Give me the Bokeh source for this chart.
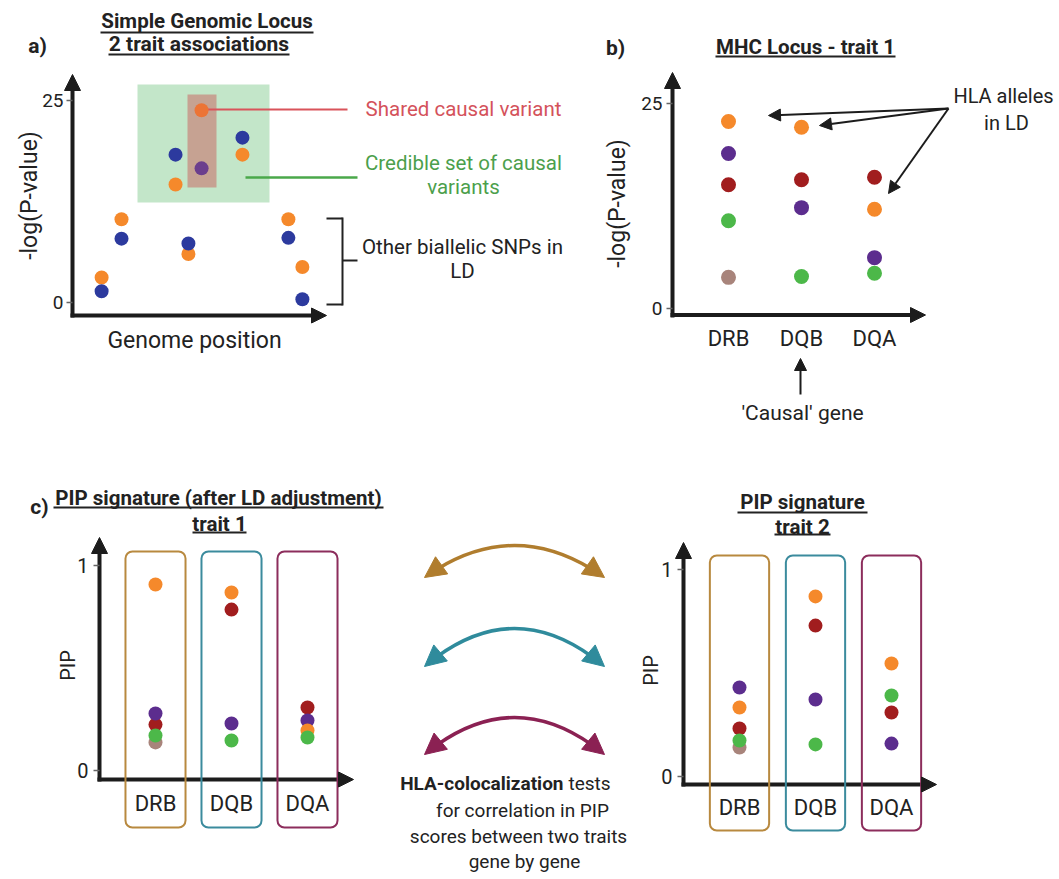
import numpy as np
from bokeh.plotting import figure
from bokeh.models import Range1d, Arrow, NormalHead, BoxAnnotation
from bokeh.core.properties import value
from bokeh.embed import file_html
from bokeh.resources import INLINE

# ---------------- data ----------------
# a) simple genomic locus: genome position (arbitrary units) and -log(P) for two traits
a_positions = [1.04, 1.75, 3.68, 4.14, 4.61, 6.07, 7.71, 8.21]
a_trait1 = [3.1, 10.3, 14.6, 6.0, 23.8, 18.3, 10.3, 4.4]
a_trait2 = [1.4, 7.9, 18.3, 7.3, 16.6, 20.4, 8.0, 0.4]
a_shared_index = 4
a_yticks = [0, 25]

# genes and allele colours (orange, purple, dark red, green, mauve)
genes = ["DRB", "DQB", "DQA"]
allele_colors = ["#f5892b", "#5c2d8e", "#a11d1e", "#4cb849", "#a8847b"]

# b) MHC locus, trait 1: -log(P) per allele
b_drb = [22.8, 18.9, 15.1, 10.7, 3.8]
b_dqb = [22.1, 12.3, 15.7, 3.9]
b_dqa = [12.1, 6.2, 16.0, 4.3]
b_yticks = [0, 25]

# c) PIP signatures
c1_drb = [0.907, 0.278, 0.224, 0.171, 0.137]
c1_dqb = [0.868, 0.229, 0.785, 0.146]
c1_dqa = [0.195, 0.244, 0.307, 0.161]
c2_drb = [0.333, 0.430, 0.232, 0.174, 0.140]
c2_dqb = [0.870, 0.372, 0.729, 0.155]
c2_dqa = [0.546, 0.159, 0.309, 0.391]
pip_yticks = [0, 1]
gene_box_colors = ["#b8893f", "#3b8b9d", "#8c2d5c"]
arc_colors = ["#b07d2e", "#2f8b9c", "#8b2153"]

# ---------------- page geometry ----------------
W, H = 1055, 875
X0, X1 = 0, W
Y0, Y1 = 0, H
INK = "#222222"
AX = "#1c1c1c"
FONT = "Roboto"

p = figure(width=W, height=H, x_range=Range1d(X0, X1), y_range=Range1d(Y1, Y0),
           output_backend="svg", toolbar_location=None, min_border=0,
           x_axis_location=None, y_axis_location=None)
p.grid.visible = False
p.outline_line_color = None
p.title.visible = False
p.background_fill_color = "white"

# panel placements: origin pixel and pixel-per-unit for each panel's scales
panels = {
    "a": (72, 28.0, 302, 8.08),
    "b": (728, 73.0, 308, 8.2),
    "c1": (155, 76.0, 770, 205.0),
    "c2": (739, 76.0, 776, 207.0),
}
xr, yr = {}, {}
for k, (ox, sx, oy, sy) in panels.items():
    xr[k + "_x"] = Range1d((X0 - ox) / sx, (X1 - ox) / sx)
    yr[k + "_y"] = Range1d((oy - Y1) / sy, (oy - Y0) / sy)
p.extra_x_ranges = xr
p.extra_y_ranges = yr


def txt(xs, ys, texts, size, color=INK, align="center", bold=False, angle=0.0,
        xn="default", yn="default"):
    p.text(x=list(xs), y=list(ys), text=list(texts), text_font=value(FONT),
           text_font_size=f"{size}px", text_color=color, text_align=align,
           text_baseline="middle", text_font_style="bold" if bold else "normal",
           angle=angle, x_range_name=xn, y_range_name=yn)


def line(x0, y0, x1, y1, color=INK, lw=2.0):
    p.segment(x0=[x0], y0=[y0], x1=[x1], y1=[y1], line_color=color, line_width=lw)


def head(x, y, ux, uy, size, color):
    p.add_layout(Arrow(end=NormalHead(size=size, fill_color=color, line_color=color, line_width=1),
                       x_start=x - ux * 2, y_start=y - uy * 2, x_end=x, y_end=y, line_alpha=0))


def axis_arrow(x0, y0, x1, y1, lw=4, size=16, color=AX):
    d = np.array([x1 - x0, y1 - y0], float)
    u = d / np.hypot(*d)
    line(x0, y0, x1 - u[0] * size * 0.8, y1 - u[1] * size * 0.8, color, lw)
    head(x1, y1, u[0], u[1], size, color)


def thin_arrow(x0, y0, x1, y1, lw=2, size=12, color=AX):
    p.add_layout(Arrow(end=NormalHead(size=size, fill_color=color, line_color=color, line_width=1),
                       x_start=x0, y_start=y0, x_end=x1, y_end=y1,
                       line_color=color, line_width=lw))


def yticks(panel, ax_x, label_x, ticks, size):
    yn = panel + "_y"
    p.segment(x0=[ax_x - 6] * len(ticks), y0=ticks, x1=[ax_x] * len(ticks), y1=ticks,
              line_color="#666666", line_width=1.5, y_range_name=yn)
    txt([label_x] * len(ticks), ticks, [str(t) for t in ticks], size, align="right", yn=yn)


# ================= panel a =================
txt([37], [45], ["a)"], 21, bold=True)
txt([206.5], [20.5], ["Simple Genomic Locus"], 20.5, bold=True)
txt([198.5], [43], ["2 trait associations"], 21, bold=True)
line(100, 32, 313, 32, INK, 1.8)
line(108, 54, 289, 54, INK, 1.8)

# credible set and shared causal variant highlight boxes
p.quad(left=[137], right=[269], top=[84], bottom=[202], fill_color="#c3e6c9", line_color=None)
p.quad(left=[187], right=[216], top=[94], bottom=[187], fill_color="#c6a292", line_color=None)

# callout lines
line(207, 109, 347, 109, "#d9535a", 2)
line(245, 177, 357, 177, "#4aa84a", 2.5)
line(326, 218, 342, 218, INK, 2)
line(342, 217, 342, 305, INK, 2)
line(326, 304, 342, 304, INK, 2)
line(342, 260, 357, 260, INK, 2)

t1_colors = ["#f5892b"] * len(a_positions)
t2_colors = ["#2c3a9e"] * len(a_positions)
t1_colors[a_shared_index] = "#ec7436"
t2_colors[a_shared_index] = "#6b3e8d"
p.scatter(a_positions, a_trait1, size=14, fill_color=t1_colors, line_color=None,
          x_range_name="a_x", y_range_name="a_y")
p.scatter(a_positions, a_trait2, size=14, fill_color=t2_colors, line_color=None,
          x_range_name="a_x", y_range_name="a_y")

axis_arrow(72, 317, 72, 74, size=16)
axis_arrow(70, 315, 326, 315, size=15)
yticks("a", 72, 63, a_yticks, 19)
txt([29], [195], ["-log(P-value)"], 23, angle=np.pi / 2)
txt([194], [340], ["Genome position"], 23)

txt([463], [108.5], ["Shared causal variant"], 20.5, color="#d4525b")
txt([463, 463], [162, 186], ["Credible set of causal", "variants"], 20.5, color="#4c9f4c")
txt([462, 462], [246, 270], ["Other biallelic SNPs in", "LD"], 20.5)

# ================= panel b =================
txt([615], [47], ["b)"], 21, bold=True)
txt([805], [46], ["MHC Locus - trait 1"], 20.5, bold=True)
line(715, 56, 895, 56, INK, 1.8)

draw_order = [2, 1, 0, 4, 3]


def gene_dots(panel, gene_values, size):
    for ai in draw_order:
        xs, ys = [], []
        for gi, vals in enumerate(gene_values):
            if ai < len(vals):
                xs.append(gi)
                ys.append(vals[ai])
        p.scatter(xs, ys, size=size, fill_color=allele_colors[ai], line_color=None,
                  x_range_name=panel + "_x", y_range_name=panel + "_y")


gene_dots("b", [b_drb, b_dqb, b_dqa], 15)
axis_arrow(672, 317, 672, 72, size=16)
axis_arrow(670, 314.5, 925, 314.5, size=15)
yticks("b", 672, 662, b_yticks, 19)
txt([617], [203], ["-log(P-value)"], 23, angle=np.pi / 2)
txt([0, 1, 2], [338] * 3, genes, 22, xn="b_x")

txt([1003, 1006], [95, 122], ["HLA alleles", "in LD"], 20)
thin_arrow(948, 108, 768, 115)
thin_arrow(948, 108, 819, 125)
thin_arrow(948, 108, 888, 193)
thin_arrow(800, 394, 800, 358)
txt([802], [412], ["'Causal' gene"], 21)

# ================= panel c (trait 1) =================
txt([39], [506], ["c)"], 21, bold=True)
txt([218], [497], ["PIP signature (after LD adjustment)"], 20.5, bold=True)
line(53, 507, 383, 507, INK, 1.8)
txt([219], [523], ["trait 1"], 20.5, bold=True)
line(192, 532, 246, 532, INK, 1.8)

for gi, col in enumerate(gene_box_colors):
    p.add_layout(BoxAnnotation(left=gi - 0.395, right=gi + 0.395, top=551, bottom=827,
                               x_range_name="c1_x", fill_color=None, fill_alpha=0,
                               line_color=col, line_alpha=1.0, line_width=2, border_radius=7))
gene_dots("c1", [c1_drb, c1_dqb, c1_dqa], 14)
axis_arrow(99, 781, 99, 537, size=16)
axis_arrow(97, 779, 353, 779, size=15)
yticks("c1", 99, 88, pip_yticks, 20)
txt([67], [665], ["PIP"], 20, angle=np.pi / 2)
txt([0, 1, 2], [803] * 3, genes, 22, xn="c1_x")

# ================= panel c (trait 2) =================
txt([802], [501], ["PIP signature"], 20.5, bold=True)
line(737, 512, 867, 512, INK, 1.8)
txt([802], [526], ["trait 2"], 20.5, bold=True)
line(774, 534, 830, 534, INK, 1.8)

for gi, col in enumerate(gene_box_colors):
    p.add_layout(BoxAnnotation(left=gi - 0.39, right=gi + 0.39, top=555, bottom=830,
                               x_range_name="c2_x", fill_color=None, fill_alpha=0,
                               line_color=col, line_alpha=1.0, line_width=2, border_radius=7))
gene_dots("c2", [c2_drb, c2_dqb, c2_dqa], 14)
axis_arrow(683, 786, 683, 542, size=16)
axis_arrow(681, 784, 936, 784, size=15)
yticks("c2", 683, 672, pip_yticks, 20)
txt([650], [670], ["PIP"], 20, angle=np.pi / 2)
txt([0, 1, 2], [807] * 3, genes, 22, xn="c2_x")

# ================= middle: colocalisation arrows =================
arc_tip_y = [577, 666, 754]
arc_apex_y = [545, 628, 717]
xl, xrr = 424, 604


def quad_sub(P0, C, P1, t0, t1):
    B = lambda t: (1 - t) ** 2 * P0 + 2 * (1 - t) * t * C + t ** 2 * P1
    Q = (1 - t0) * (1 - t1) * P0 + ((1 - t0) * t1 + t0 * (1 - t1)) * C + t0 * t1 * P1
    return B(t0), Q, B(t1)


for ty, ay, col in zip(arc_tip_y, arc_apex_y, arc_colors):
    P0 = np.array([xl, ty], float)
    P1 = np.array([xrr, ty], float)
    C = np.array([(xl + xrr) / 2, 2 * ay - ty], float)
    s0, q, s1 = quad_sub(P0, C, P1, 0.07, 0.93)
    p.quadratic(x0=[s0[0]], y0=[s0[1]], x1=[s1[0]], y1=[s1[1]], cx=[q[0]], cy=[q[1]],
                line_color=col, line_width=3.5)
    for P in (P0, P1):
        u = (P - C) / np.hypot(*(P - C))
        head(P[0], P[1], u[0], u[1], 21, col)

txt([563], [783], ["HLA-colocalization"], 19, bold=True, align="right")
txt([568], [783], ["tests"], 19, align="left")
txt([522, 518, 524], [810, 836, 861],
    ["for correlation in PIP", "scores between two traits", "gene by gene"], 19)

open("out.html", "w").write(file_html(p, INLINE))
